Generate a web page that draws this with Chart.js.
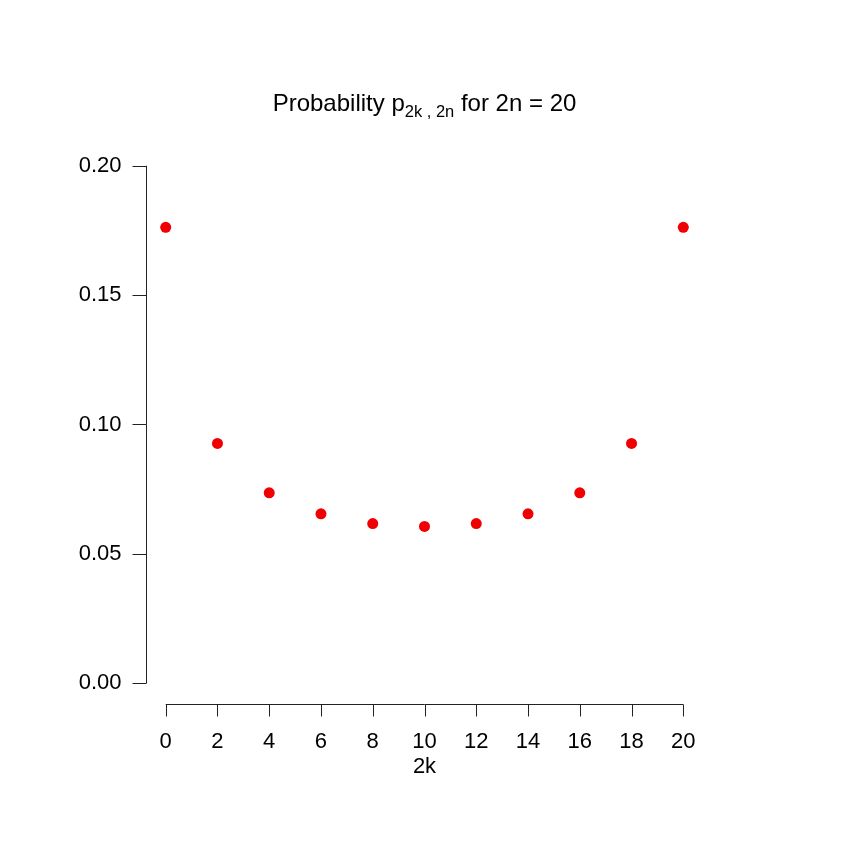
<!DOCTYPE html>
<html>
<head>
<meta charset="utf-8">
<script src="https://cdn.jsdelivr.net/npm/chart.js@4"></script>
<style>
  html, body { margin: 0; padding: 0; background: #fff; }
  #wrap { width: 850px; height: 850px; }
</style>
</head>
<body>
<div id="wrap"><canvas id="chart" width="850" height="850"></canvas></div>
<script>
// p(2k, 2n) for 2n = 20
const evenK = [0, 2, 4, 6, 8, 10, 12, 14, 16, 18, 20];
const probs = [0.1762, 0.0927, 0.0736, 0.0655, 0.0617, 0.0606, 0.0617, 0.0655, 0.0736, 0.0927, 0.1762];
const xTicks = [0, 2, 4, 6, 8, 10, 12, 14, 16, 18, 20];
const yTicks = [0.00, 0.05, 0.10, 0.15, 0.20];
const yTickLabels = ['0.00', '0.05', '0.10', '0.15', '0.20'];

const FONT = '"Liberation Sans", Arial, sans-serif';

// R-style detached axes, title and labels
const rAxes = {
  id: 'rAxes',
  afterDraw(chart) {
    const { ctx, chartArea, scales } = chart;
    const xs = scales.x, ys = scales.y;
    ctx.save();
    ctx.strokeStyle = '#222';
    ctx.lineWidth = 1;
    ctx.fillStyle = '#000';

    // y axis
    const ax = Math.round(chartArea.left) + 1.5;
    ctx.beginPath();
    ctx.moveTo(ax, ys.getPixelForValue(yTicks[0]));
    ctx.lineTo(ax, ys.getPixelForValue(yTicks[yTicks.length - 1]));
    yTicks.forEach(v => {
      const py = Math.round(ys.getPixelForValue(v)) + 0.5;
      ctx.moveTo(ax, py);
      ctx.lineTo(ax - 14, py);
    });
    ctx.stroke();
    ctx.font = '22px ' + FONT;
    ctx.textAlign = 'right';
    ctx.textBaseline = 'middle';
    yTicks.forEach((v, i) => {
      ctx.fillText(yTickLabels[i], ax - 25, ys.getPixelForValue(v));
    });

    // x axis
    const ay = Math.round(chartArea.bottom) + 0.5;
    ctx.beginPath();
    ctx.moveTo(xs.getPixelForValue(xTicks[0]), ay);
    ctx.lineTo(xs.getPixelForValue(xTicks[xTicks.length - 1]), ay);
    xTicks.forEach(v => {
      const px = Math.round(xs.getPixelForValue(v)) + 0.5;
      ctx.moveTo(px, ay);
      ctx.lineTo(px, ay + 12);
    });
    ctx.stroke();
    ctx.textAlign = 'center';
    ctx.textBaseline = 'middle';
    xTicks.forEach(v => {
      ctx.fillText(String(v), xs.getPixelForValue(v), ay + 37);
    });
    ctx.fillText('2k', (chartArea.left + chartArea.right) / 2, ay + 62);

    // title with subscript
    const big = '24px ' + FONT, small = '16.5px ' + FONT;
    const parts = [
      { t: 'Probability p', f: big, dy: 0 },
      { t: '2k , 2n', f: small, dy: 6 },
      { t: ' for 2n = 20', f: big, dy: 0 }
    ];
    let total = 0;
    parts.forEach(p => { ctx.font = p.f; p.w = ctx.measureText(p.t).width; total += p.w; });
    let x = (chartArea.left + chartArea.right) / 2 - total / 2;
    ctx.textAlign = 'left';
    ctx.textBaseline = 'alphabetic';
    parts.forEach(p => {
      ctx.font = p.f;
      ctx.fillText(p.t, x, 111 + p.dy);
      x += p.w;
    });
    ctx.restore();
  }
};

new Chart(document.getElementById('chart'), {
  type: 'scatter',
  data: {
    datasets: [{
      data: evenK.map((k, i) => ({ x: k, y: probs[i] })),
      backgroundColor: '#f00000',
      borderColor: '#f00000',
      pointRadius: 5.5,
      pointBorderWidth: 0
    }]
  },
  options: {
    responsive: false,
    animation: false,
    layout: { padding: { left: 145, top: 145, right: 146, bottom: 146 } },
    plugins: { legend: { display: false }, tooltip: { enabled: false } },
    scales: {
      x: { type: 'linear', min: -0.8, max: 20.8, display: false },
      y: { type: 'linear', min: -0.008, max: 0.208, display: false }
    }
  },
  plugins: [rAxes]
});
</script>
</body>
</html>
